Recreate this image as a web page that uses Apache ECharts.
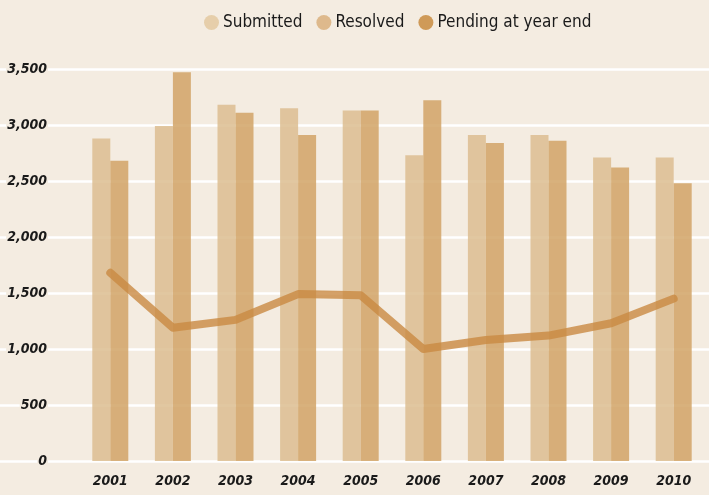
<!DOCTYPE html>
<html>
<head>
<meta charset="utf-8">
<script src="https://cdn.jsdelivr.net/npm/echarts@6/dist/echarts.min.js"></script>
<style>
  html, body { margin: 0; padding: 0; background: #f4ece1; }
  #chart { width: 709px; height: 495px; }
</style>
</head>
<body>
<div id="chart"></div>
<script>
const years = ['2001', '2002', '2003', '2004', '2005', '2006', '2007', '2008', '2009', '2010'];
const submitted = [2880, 2990, 3180, 3150, 3130, 2730, 2910, 2910, 2710, 2710];
const resolved = [2680, 3470, 3110, 2910, 3130, 3220, 2840, 2860, 2620, 2480];
const pending = [1680, 1190, 1260, 1490, 1480, 1000, 1080, 1120, 1230, 1450];

const font = '"Liberation Sans Narrow", "DejaVu Sans Condensed", "Liberation Sans", sans-serif';
const bg = '#f4ece1';

const chart = echarts.init(document.getElementById('chart'));

chart.setOption({
  backgroundColor: bg,
  animation: false,
  legend: {
    left: 199,
    top: 9,
    itemWidth: 15,
    itemHeight: 15,
    itemGap: 14,
    icon: 'circle',
    textStyle: { fontFamily: font, fontSize: 17, color: '#1a1a1a', padding: [0, 0, 0, -1] },
    data: [
      { name: 'Submitted', itemStyle: { color: '#e3c9a0' } },
      { name: 'Resolved', itemStyle: { color: '#d9b07c' } },
      { name: 'Pending at year end', itemStyle: { color: '#cf9a58' } }
    ]
  },
  grid: [
    { left: 79, right: 4, top: 69, bottom: 34 },
    { left: 0, right: 0, top: 69, bottom: 34 }
  ],
  xAxis: [
    {
      type: 'category',
      gridIndex: 0,
      data: years,
      axisLine: { show: false },
      axisTick: { show: false },
      axisLabel: {
        margin: 13,
        fontFamily: font,
        fontStyle: 'italic',
        fontWeight: 'bold',
        fontSize: 14,
        color: '#1a1a1a'
      }
    },
    {
      type: 'value',
      gridIndex: 1,
      show: false
    }
  ],
  yAxis: [
    {
      type: 'value',
      gridIndex: 0,
      min: 0,
      max: 3500,
      interval: 500,
      z: 5,
      axisLine: { show: false },
      axisTick: { show: false },
      splitLine: { show: false },
      axisLabel: {
        margin: 31,
        fontFamily: font,
        fontStyle: 'italic',
        fontWeight: 'bold',
        fontSize: 14,
        color: '#1a1a1a',
        backgroundColor: bg,
        padding: [0, 1, 0, 1],
        formatter: v => v.toLocaleString('en-US')
      }
    },
    {
      type: 'value',
      gridIndex: 1,
      min: 0,
      max: 3500,
      interval: 500,
      axisLine: { show: false },
      axisTick: { show: false },
      axisLabel: { show: false },
      splitLine: { lineStyle: { color: '#ffffff', width: 2.5 } }
    }
  ],
  series: [
    {
      name: 'Submitted',
      type: 'bar',
      barWidth: 18,
      barGap: '0%',
      data: submitted,
      itemStyle: { color: '#dcbd90', opacity: 0.85 }
    },
    {
      name: 'Resolved',
      type: 'bar',
      barWidth: 18,
      data: resolved,
      itemStyle: { color: '#d1a366', opacity: 0.85 }
    },
    {
      name: 'Pending at year end',
      type: 'line',
      data: pending,
      symbol: 'none',
      z: 4,
      lineStyle: { color: '#c98942', width: 8, opacity: 0.8, cap: 'round', join: 'round' },
      itemStyle: { color: '#cf9a58' }
    }
  ]
});
</script>
</body>
</html>
